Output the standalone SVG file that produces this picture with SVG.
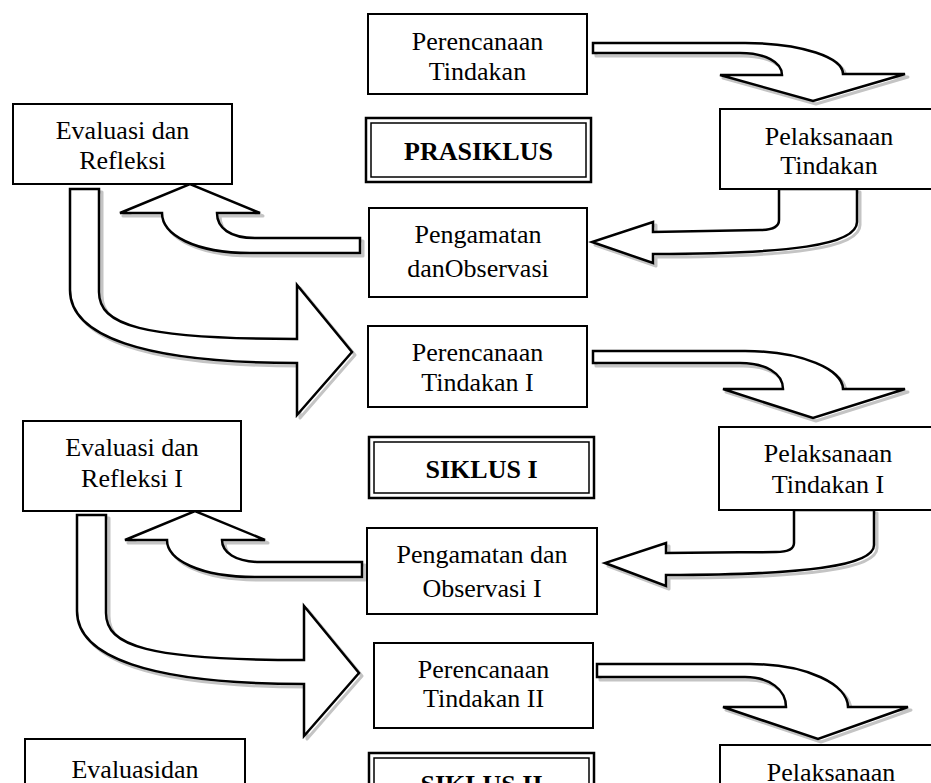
<svg xmlns="http://www.w3.org/2000/svg" xmlns:xlink="http://www.w3.org/1999/xlink" width="931" height="783" viewBox="0 0 931 783">
<style>
  .box { fill: #ffffff; stroke: #000000; stroke-width: 2; }
  .outer { fill: #ffffff; stroke: #000000; stroke-width: 2.5; }
  .inner { fill: none; stroke: #000000; stroke-width: 1.5; }
  .t { font-family: "Liberation Serif", "Times New Roman", serif; font-size: 26px; text-anchor: middle; fill: #000000; }
  .b { font-family: "Liberation Serif", "Times New Roman", serif; font-size: 26px; font-weight: bold; text-anchor: middle; fill: #000000; }
  .shadow { fill: none; stroke: #c4c4c4; stroke-width: 3; stroke-linejoin: round; }
  .arrow { fill: #ffffff; stroke: #000000; stroke-width: 2.5; stroke-linejoin: miter; }
</style>
<defs>
  <path id="p1" d="M593,43 L745,43 C803,43 843,58 843,74 L905,74 L813,101 L720,75 L782,75 C782,62 765,53 740,53 L593,53 Z"/>
  <path id="p2" d="M779,189 L779,220 C779,228 770,230 760,230 L653,232 L653,222 L592,242 L653,263 L653,254 C790,254 857,245 857,222 L857,189 Z"/>
  <path id="p3" d="M360,238 L255,238 C230,238 217,228 217,213 L260,213 L190,184 L120,213 L162,213 C162,235 195,253 250,253 L360,253 Z"/>
  <path id="p4" d="M70,189 L99,189 L99,292 C99,325 140,339 297,339 L297,285 L352,352 L297,415 L297,363 C140,363 70,335 70,290 Z"/>
  <path id="p5" d="M593,351 L745,351 C803,351 843,370 843,389 L905,389 L813,418 L723,389 L783,389 C783,373 765,363 740,363 L593,363 Z"/>
  <path id="p6" d="M794,510 L794,543 C794,550 786,552 776,552 L666,553 L666,543 L605,563 L666,586 L666,575 C805,575 874,566 874,545 L874,510 Z"/>
  <path id="p7" d="M362,562 L260,562 C235,562 222,552 222,540 L265,540 L195,511 L125,540 L167,540 C167,560 200,577 255,577 L362,577 Z"/>
  <path id="p8" d="M77,515 L106,515 L106,613 C106,646 147,660 304,660 L304,606 L359,673 L304,736 L304,684 C147,684 77,656 77,611 Z"/>
  <path id="p9" d="M597,664 L750,664 C808,664 848,685 848,707 L908,707 L818,739 L723,707 L786,707 C786,690 770,677 745,677 L597,677 Z"/>
</defs>
<g id="connectors">
  <use xlink:href="#p1" class="shadow" transform="translate(3,3)"/><use xlink:href="#p1" class="arrow"/>
  <use xlink:href="#p2" class="shadow" transform="translate(3,3)"/><use xlink:href="#p2" class="arrow"/>
  <use xlink:href="#p3" class="shadow" transform="translate(3,3)"/><use xlink:href="#p3" class="arrow"/>
  <use xlink:href="#p4" class="shadow" transform="translate(3,3)"/><use xlink:href="#p4" class="arrow"/>
  <use xlink:href="#p5" class="shadow" transform="translate(3,3)"/><use xlink:href="#p5" class="arrow"/>
  <use xlink:href="#p6" class="shadow" transform="translate(3,3)"/><use xlink:href="#p6" class="arrow"/>
  <use xlink:href="#p7" class="shadow" transform="translate(3,3)"/><use xlink:href="#p7" class="arrow"/>
  <use xlink:href="#p8" class="shadow" transform="translate(3,3)"/><use xlink:href="#p8" class="arrow"/>
  <use xlink:href="#p9" class="shadow" transform="translate(3,3)"/><use xlink:href="#p9" class="arrow"/>
</g>
<g id="perencanaan0"><rect class="box" x="368" y="14" width="219" height="80"/><text class="t" x="477.5" y="50">Perencanaan</text><text class="t" x="477.5" y="80">Tindakan</text></g>
<g id="evaluasi0"><rect class="box" x="13" y="104" width="219" height="80"/><text class="t" x="122.5" y="139">Evaluasi dan</text><text class="t" x="122.5" y="169">Refleksi</text></g>
<g id="prasiklus"><rect class="outer" x="366" y="118" width="225" height="64"/><rect class="inner" x="371" y="123" width="215" height="54"/><text class="b" x="478.5" y="160">PRASIKLUS</text></g>
<g id="pelaksanaan0"><rect class="box" x="720" y="109" width="220" height="80"/><text class="t" x="829" y="145">Pelaksanaan</text><text class="t" x="829" y="174">Tindakan</text></g>
<g id="pengamatan0"><rect class="box" x="369" y="208" width="218" height="89"/><text class="t" x="478" y="243">Pengamatan</text><text class="t" x="478" y="277">danObservasi</text></g>
<g id="perencanaan1"><rect class="box" x="368" y="326" width="219" height="81"/><text class="t" x="477.5" y="361">Perencanaan</text><text class="t" x="477.5" y="391">Tindakan I</text></g>
<g id="evaluasi1"><rect class="box" x="23" y="421" width="218" height="90"/><text class="t" x="132" y="456">Evaluasi dan</text><text class="t" x="132" y="487">Refleksi I</text></g>
<g id="siklus1"><rect class="outer" x="369" y="437" width="225" height="61"/><rect class="inner" x="374" y="442" width="215" height="51"/><text class="b" x="481.5" y="478">SIKLUS I</text></g>
<g id="pelaksanaan1"><rect class="box" x="719" y="427" width="221" height="83"/><text class="t" x="828" y="462">Pelaksanaan</text><text class="t" x="828" y="493">Tindakan I</text></g>
<g id="pengamatan1"><rect class="box" x="367" y="528" width="230" height="86"/><text class="t" x="482" y="563">Pengamatan dan</text><text class="t" x="482" y="597">Observasi I</text></g>
<g id="perencanaan2"><rect class="box" x="374" y="643" width="219" height="85"/><text class="t" x="483.5" y="678">Perencanaan</text><text class="t" x="483.5" y="707">Tindakan II</text></g>
<g id="evaluasi2"><rect class="box" x="25" y="739" width="220" height="70"/><text class="t" x="135" y="778">Evaluasidan</text></g>
<g id="siklus2"><rect class="outer" x="369" y="753" width="225" height="64"/><rect class="inner" x="374" y="758" width="215" height="54"/><text class="b" x="481.5" y="793">SIKLUS II</text></g>
<g id="pelaksanaan2"><rect class="box" x="720" y="745" width="220" height="70"/><text class="t" x="831" y="781">Pelaksanaan</text></g>
</svg>
